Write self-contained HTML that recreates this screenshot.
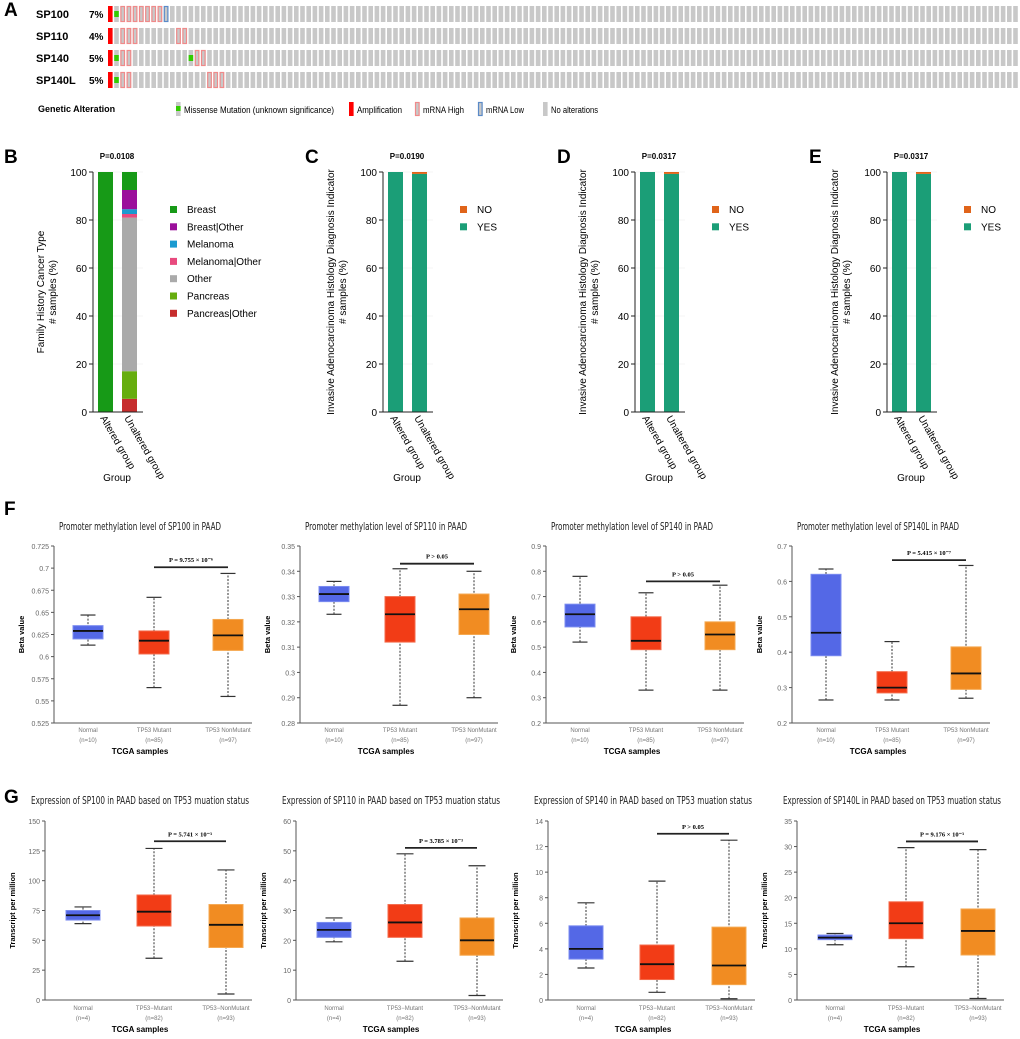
<!DOCTYPE html>
<html><head><meta charset="utf-8"><style>
body{margin:0;background:#fff;width:1020px;height:1039px;overflow:hidden;font-family:"Liberation Sans",sans-serif}
svg{position:absolute;left:0;top:0}
</style></head><body>
<svg id="fig" width="1020" height="1039" viewBox="0 0 1020 1039" font-family="Liberation Sans, sans-serif"></svg>
<script>
// ---------- Panel A data ----------
const genes=['SP100','SP110','SP140','SP140L'];
const pcts=['7%','4%','5%','5%'];
const ampCols=[[0],[0],[0],[0]];
const missenseCols=[[1],[],[1,13],[1]];
const highCols=[[2,3,4,5,6,7,8],[2,3,4,11,12],[2,3,14,15],[2,3,16,17,18]];
const lowCols=[[9],[],[],[]];
const nCols=147;
// ---------- Panel B data ----------
const bCats=['Breast','Breast|Other','Melanoma','Melanoma|Other','Other','Pancreas','Pancreas|Other'];
const bColors=['#179a17','#9b109b','#1a9ad0','#e84a7e','#aaaaaa','#66ad0e','#c62d2d'];
const bAltered=[100,0,0,0,0,0,0];
const bUnaltered=[7.5,8,2,1.5,64,11.5,5.5];
// ---------- Panels C-E data ----------
const ynLabels=['C','D','E'];
const ynP=['P=0.0190','P=0.0317','P=0.0317'];
const ynAlteredNo=[0,0,0];
const ynUnalteredNo=[0.8,0.8,0.8];
// ---------- Box plot data ----------
const boxGroups=['Normal','Mutant','NonMutant'];
const fTitles=['SP100','SP110','SP140','SP140L'];
const fTicks=[[0.525,0.55,0.575,0.6,0.625,0.65,0.675,0.7,0.725],[0.28,0.29,0.3,0.31,0.32,0.33,0.34,0.35],[0.2,0.3,0.4,0.5,0.6,0.7,0.8,0.9],[0.2,0.3,0.4,0.5,0.6,0.7]];
const fTickLabels=[['0.525','0.55','0.575','0.6','0.625','0.65','0.675','0.7','0.725'],['0.28','0.29','0.3','0.31','0.32','0.33','0.34','0.35'],['0.2','0.3','0.4','0.5','0.6','0.7','0.8','0.9'],['0.2','0.3','0.4','0.5','0.6','0.7']];
const fStats=[ // [wlo,q1,med,q3,whi] per group
 [[0.613,0.620,0.629,0.635,0.647],[0.565,0.603,0.618,0.629,0.667],[0.555,0.607,0.624,0.642,0.694]],
 [[0.323,0.328,0.331,0.334,0.336],[0.287,0.312,0.323,0.330,0.341],[0.290,0.315,0.325,0.331,0.340]],
 [[0.52,0.58,0.63,0.67,0.78],[0.33,0.49,0.525,0.62,0.715],[0.33,0.49,0.55,0.60,0.745]],
 [[0.265,0.39,0.455,0.62,0.635],[0.265,0.285,0.30,0.345,0.43],[0.27,0.295,0.34,0.415,0.645]]];
const fBar=[0.701,0.343,0.76,0.66];
const fP=['P = 9.755 × 10⁻⁶','P > 0.05','P > 0.05','P = 5.415 × 10⁻⁷'];
const fN=['(n=10)','(n=85)','(n=97)'];
const gTicks=[[0,25,50,75,100,125,150],[0,10,20,30,40,50,60],[0,2,4,6,8,10,12,14],[0,5,10,15,20,25,30,35]];
const gStats=[
 [[64,67,71,75,78],[35,62,74,88,127],[5,44,63,80,109]],
 [[19.5,21,23.5,26,27.5],[13,21,26,32,49],[1.5,15,20,27.5,45]],
 [[2.5,3.2,4.0,5.8,7.6],[0.6,1.6,2.8,4.3,9.3],[0.1,1.2,2.7,5.7,12.5]],
 [[10.8,11.8,12.2,12.7,13],[6.5,12,15,19.2,29.8],[0.3,8.8,13.5,17.8,29.4]]];
const gBar=[133,51,13,31];
const gP=['P = 5.741 × 10⁻³','P = 3.785 × 10⁻³','P > 0.05','P = 9.176 × 10⁻³'];
const gN=['(n=4)','(n=82)','(n=93)'];

const NS='http://www.w3.org/2000/svg';
const svg=document.getElementById('fig');
function el(tag,attrs,parent,text){const e=document.createElementNS(NS,tag);for(const k in attrs)e.setAttribute(k,attrs[k]);if(text!==undefined)e.textContent=text;(parent||svg).appendChild(e);return e;}
function grp(name,parent){const g=el('g',{},parent);


return g;}
function letter(t,x,y){const e=el('text',{x:x,y:y,'font-size':19,'font-weight':'bold'},svg,t);

}

// ---------- Panel A ----------
letter('A',4,16);
const gA=grp('oncoprint');
const rowY=[6,28,50,72];
const step=6.2,cw=4.6,x0=108;
genes.forEach((gname,r)=>{
 const t=el('text',{x:36,y:rowY[r]+12,'font-size':11,'font-weight':'bold'},gA,gname);
 
 
 const p=el('text',{x:89,y:rowY[r]+12,'font-size':10,'font-weight':'bold'},gA,pcts[r]);
 
 
 for(let c=0;c<nCols;c++){
  const x=x0+c*step,y=rowY[r];
  let fill='#c8c8c8';
  if(ampCols[r].includes(c))fill='#ff0000';
  const cell=el('rect',{x:x,y:y,width:cw,height:16,fill:fill},gA);
  
  
  if(highCols[r].includes(c))el('rect',{x:x+0.5,y:y+0.5,width:cw-1,height:15,fill:'none',stroke:'#f08a8a','stroke-width':1.2},gA);
  if(lowCols[r].includes(c))el('rect',{x:x+0.5,y:y+0.5,width:cw-1,height:15,fill:'none',stroke:'#5a8ac8','stroke-width':1.2},gA);
  if(missenseCols[r].includes(c))el('rect',{x:x,y:y+5,width:cw,height:6,fill:'#33cc00'},gA);
 }
});
const lgA=grp('alteration-legend');
el('text',{x:38,y:112,'font-size':9,'font-weight':'bold'},lgA,'Genetic Alteration');
function lgCell(x,fill,stroke,mis){el('rect',{x:x,y:102,width:4.6,height:14,fill:fill},lgA);if(stroke)el('rect',{x:x+0.5,y:102.5,width:3.6,height:13,fill:'none',stroke:stroke,'stroke-width':1.2},lgA);if(mis)el('rect',{x:x,y:106,width:4.6,height:5,fill:'#33cc00'},lgA);}
function lgText(x,t,len){el('text',{x:x,y:113,'font-size':9,textLength:len,lengthAdjust:'spacingAndGlyphs'},lgA,t);}
lgCell(176,'#c8c8c8',null,true);lgText(184,'Missense Mutation (unknown significance)',150);
lgCell(349,'#ff0000');lgText(357,'Amplification',45);
lgCell(415,'#c8c8c8','#f08a8a');lgText(423,'mRNA High',41);
lgCell(478,'#c8c8c8','#5a8ac8');lgText(486,'mRNA Low',38);
lgCell(543,'#c8c8c8');lgText(551,'No alterations',47);

// ---------- stacked bar panels ----------
function stackPanel(ox,name,pTxt,yLabel1,yLabel2,cats,colors,alt,unalt){
 const g=grp(name);
 const ax=ox+93,top=172,bot=412;
 const ys=v=>bot-(v/100)*(bot-top);
 el('text',{x:ox+117,y:159,'font-size':8,'font-weight':'bold','text-anchor':'middle'},g,pTxt);
 [0,20,40,60,80,100].forEach(v=>{
  el('line',{x1:ax,x2:ax+50,y1:ys(v),y2:ys(v),stroke:'#eee','stroke-width':0.6},g);
  el('line',{x1:ax-4,x2:ax,y1:ys(v),y2:ys(v),stroke:'#222'},g);
  el('text',{x:ax-6,y:ys(v)+4,'font-size':10,'text-anchor':'end'},g,String(v));
 });
 [[alt,ox+98],[unalt,ox+122]].forEach(([vals,bx],i)=>{
  let cum=0;
  for(let k=vals.length-1;k>=0;k--){
   if(vals[k]<=0)continue;
   const r=el('rect',{x:bx,y:ys(cum+vals[k]),width:15,height:ys(cum)-ys(cum+vals[k]),fill:colors[k]},g);
   
   
   cum+=vals[k];
  }
 });
 el('line',{x1:ax,x2:ax,y1:top,y2:bot,stroke:'#222'},g);
 el('line',{x1:ax,x2:ax+50,y1:bot,y2:bot,stroke:'#222'},g);
 el('text',{transform:`translate(${ox+100},418) rotate(60)`,'font-size':10},g,'Altered group');
 el('text',{transform:`translate(${ox+124},418) rotate(60)`,'font-size':10},g,'Unaltered group');
 el('text',{x:ox+117,y:481,'font-size':10,'text-anchor':'middle'},g,'Group');
 el('text',{transform:`translate(${ox+44},292) rotate(-90)`,'font-size':10,'text-anchor':'middle'},g,yLabel1);
 el('text',{transform:`translate(${ox+56},292) rotate(-90)`,'font-size':10,'text-anchor':'middle'},g,yLabel2);
 cats.forEach((c,i)=>{
  const ly=210+i*17.3;
  const it=grp('legend-entry',g);
  el('rect',{x:ox+170,y:ly-4,width:7,height:7,fill:colors[i]},it);
  el('text',{x:ox+187,y:ly+3,'font-size':10},it,c);
 });
}
letter('B',4,163);
stackPanel(0,'family-history-chart','P=0.0108','Family History Cancer Type','# samples (%)',bCats,bColors,bAltered,bUnaltered);
ynLabels.forEach((L,i)=>{
 const ox=290+i*252;
 letter(L,ox+15,163);
 stackPanel(ox,'histology-chart-'+L.toLowerCase(),ynP[i],'Invasive Adenocarcinoma Histology Diagnosis Indicator','# samples (%)',['NO','YES'],['#e0641a','#1b9e77'],[ynAlteredNo[i],100-ynAlteredNo[i]],[ynUnalteredNo[i],100-ynUnalteredNo[i]]);
});

// ---------- box plots ----------
const boxFill=['#5468e6','#f23c16','#f18c22'];
const boxStroke=['#7b8cf0','#f46a4a','#f5a850'];
function boxPanel(ox,o,name,title,ticks,tickLbl,stats,barV,pTxt,xl,nl,yLab){
 const g=grp(name);
 const ax=ox+o.ax,top=o.top,bot=o.bot,lo=ticks[0],hi=ticks[ticks.length-1];
 const ys=v=>bot-(v-lo)/(hi-lo)*(bot-top);
 el('text',{x:ox+140,y:o.ty,'font-size':10.5,'text-anchor':'middle','font-family':'DejaVu Sans Condensed, DejaVu Sans, sans-serif','fill':'#222',textLength:o.tl,lengthAdjust:'spacingAndGlyphs'},g,title);
 el('line',{x1:ax,x2:ax,y1:top,y2:bot,stroke:'#555'},g);
 el('line',{x1:ax,x2:ox+252,y1:bot,y2:bot,stroke:'#555'},g);
 ticks.forEach((v,i)=>{
  el('line',{x1:ax-3,x2:ax,y1:ys(v),y2:ys(v),stroke:'#555'},g);
  el('text',{x:ax-5,y:ys(v)+3,'font-size':7,'text-anchor':'end',fill:'#666'},g,tickLbl[i]);
 });
 const cx=[ox+o.cx[0],ox+o.cx[1],ox+o.cx[2]];
 stats.forEach((s,i)=>{
  const b=grp('box-'+boxGroups[i].toLowerCase(),g);
  const w=o.bw,hw=w/2,c=cx[i];
  el('line',{x1:c,x2:c,y1:ys(s[0]),y2:ys(s[4]),stroke:'#333','stroke-dasharray':'2,1.5'},b);
  el('line',{x1:c-hw*0.5,x2:c+hw*0.5,y1:ys(s[0]),y2:ys(s[0]),stroke:'#333','stroke-width':1.2},b);
  el('line',{x1:c-hw*0.5,x2:c+hw*0.5,y1:ys(s[4]),y2:ys(s[4]),stroke:'#333','stroke-width':1.2},b);
  el('rect',{x:c-hw,y:ys(s[3]),width:w,height:ys(s[1])-ys(s[3]),fill:boxFill[i],stroke:boxStroke[i]},b);
  el('line',{x1:c-hw,x2:c+hw,y1:ys(s[2]),y2:ys(s[2]),stroke:'#111','stroke-width':1.8},b);
  el('text',{x:c,y:o.xly,'font-size':6,'text-anchor':'middle',fill:'#777'},g,xl[i]);
  el('text',{x:c,y:o.xly+10,'font-size':6,'text-anchor':'middle',fill:'#777'},g,nl[i]);
 });
 el('line',{x1:cx[1],x2:cx[2],y1:ys(barV),y2:ys(barV),stroke:'#222','stroke-width':1.8},g);
 el('text',{x:(cx[1]+cx[2])/2,y:ys(barV)-5,'font-size':6.5,'font-weight':'bold','text-anchor':'middle','font-family':'Liberation Serif, serif'},g,pTxt);
 el('text',{x:ox+140,y:o.xly+22,'font-size':8,'font-weight':'bold','text-anchor':'middle'},g,'TCGA samples');
 el('text',{transform:`translate(${ox+o.ax-30},${(top+bot)/2}) rotate(-90)`,'font-size':7.5,'font-weight':'bold','text-anchor':'middle'},g,yLab);
}
letter('F',4,515);
const fOff=[0,246,492,738];
const fGeo={ax:54,top:546,bot:723,cx:[88,154,228],bw:30,ty:530,xly:732,tl:162};
fOff.forEach((ox,i)=>boxPanel(ox,fGeo,'methylation-boxplot-'+fTitles[i].toLowerCase(),'Promoter methylation level of '+fTitles[i]+' in PAAD',fTicks[i],fTickLabels[i],fStats[i],fBar[i],fP[i],['Normal','TP53 Mutant','TP53 NonMutant'],fN,'Beta value'));
letter('G',4,803);
const gOff=[0,251,503,752];
const gGeo={ax:45,top:821,bot:1000,cx:[83,154,226],bw:34,ty:804,xly:1010,tl:218};
gOff.forEach((ox,i)=>boxPanel(ox,gGeo,'expression-boxplot-'+fTitles[i].toLowerCase(),'Expression of '+fTitles[i]+' in PAAD based on TP53 muation status',gTicks[i],gTicks[i].map(String),gStats[i],gBar[i],gP[i],['Normal','TP53−Mutant','TP53−NonMutant'],gN,'Transcript per million'));
</script>
</body></html>
